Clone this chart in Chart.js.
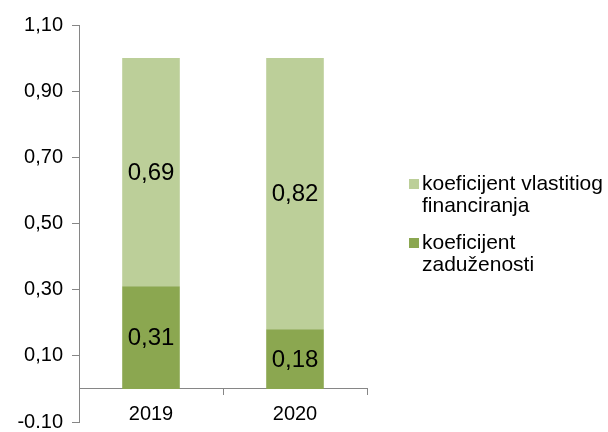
<!DOCTYPE html>
<html>
<head>
<meta charset="utf-8">
<script src="https://cdn.jsdelivr.net/npm/chart.js@4/dist/chart.umd.min.js"></script>
<style>
  body { margin: 0; background: #fff; }
  #wrap { position: relative; width: 608px; height: 432px; }
  #legend { position: absolute; left: 409px; top: 172px; font-family: "Liberation Sans", Arial, sans-serif; font-size: 21px; line-height: 22px; color: #000; }
  .item { position: relative; padding-left: 13px; margin-bottom: 15px; }
  .box { position: absolute; left: 0; top: 7px; width: 10px; height: 10px; }
</style>
</head>
<body>
<div id="wrap">
  <canvas id="chart" width="608" height="432"></canvas>
  <div id="legend"></div>
</div>
<script>
// podaci
const godine = ["2019", "2020"];
const zaduzenost = [0.31, 0.18];
const vlastito = [0.69, 0.82];
const nazivi = ["koeficijent zaduženosti", "koeficijent vlastitiog financiranja"];
const boje = ["rgb(139,167,80)", "rgb(188,207,153)"];
const yMin = -0.1, yMax = 1.1, yStep = 0.2;

const font = "'Liberation Sans', Arial, sans-serif";
const sivo = "#868686";

function zarez(v) {
    return v.toFixed(2).replace('.', ',');
}

// oznake vrijednosti u stupcima
const oznake = {
    id: 'oznake',
    afterDatasetsDraw(chart) {
        const ctx = chart.ctx;
        ctx.save();
        ctx.font = "24px " + font;
        ctx.fillStyle = "#000";
        ctx.textAlign = "center";
        ctx.textBaseline = "middle";
        chart.data.datasets.forEach((ds, i) => {
            chart.getDatasetMeta(i).data.forEach((bar, j) => {
                ctx.fillText(zarez(ds.data[j]), bar.x, (bar.y + bar.base) / 2 + 1);
            });
        });
        ctx.restore();
    }
};

const ctx = document.getElementById("chart").getContext("2d");
const grafikon = new Chart(ctx, {
    type: 'bar',
    data: {
        labels: godine,
        datasets: [{
            label: nazivi[0],
            data: zaduzenost,
            backgroundColor: boje[0],
            barPercentage: 0.4,
            categoryPercentage: 1
        },
        {
            label: nazivi[1],
            data: vlastito,
            backgroundColor: boje[1],
            barPercentage: 0.4,
            categoryPercentage: 1
        }]
    },
    options: {
        responsive: false,
        animation: false,
        layout: { padding: { top: 25, right: 241, left: 0, bottom: 10 } },
        plugins: {
            legend: { display: false },
            tooltip: { enabled: false }
        },
        scales: {
            x: {
                stacked: true,
                position: { y: 0 },
                grid: { offset: true, drawOnChartArea: false, tickLength: 6, color: sivo },
                border: { color: sivo },
                ticks: { color: "#000", font: { family: font, size: 20 }, padding: 8 },
                afterFit: (s) => { s.height = 10; s.paddingLeft = 0; s.paddingRight = 0; }
            },
            y: {
                stacked: true,
                min: yMin,
                max: yMax,
                grid: { drawOnChartArea: false, tickLength: 7, color: sivo },
                border: { color: sivo },
                ticks: {
                    stepSize: yStep,
                    color: "#000",
                    font: { family: font, size: 20 },
                    padding: 9,
                    callback: (v) => (v < 0 ? v.toFixed(2) : zarez(v))
                },
                afterFit: (s) => { s.width = 79; s.paddingTop = 0; s.paddingBottom = 0; }
            }
        }
    },
    plugins: [oznake]
});

// legenda
const legenda = document.getElementById("legend");
[1, 0].forEach((i) => {
    const red = document.createElement("div");
    red.className = "item";
    red.innerHTML = '<span class="box" style="background:' + boje[i] + '"></span>' + nazivi[i].replace(/^koeficijent /, 'koeficijent<br>').replace('koeficijent<br>vlastitiog', 'koeficijent vlastitiog');
    legenda.appendChild(red);
});
</script>
</body>
</html>
